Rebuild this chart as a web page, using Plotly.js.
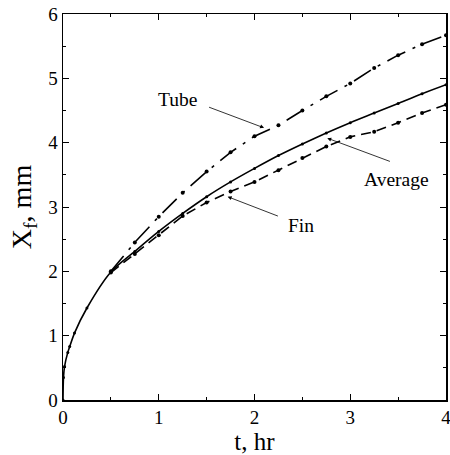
<!DOCTYPE html>
<html>
<head>
<meta charset="utf-8">
<script src="https://cdn.plot.ly/plotly-3.0.1.min.js"></script>
<style>html,body{margin:0;padding:0;background:#fff;}#chart{width:450px;height:455px;}</style>
</head>
<body>
<div id="chart"></div>
<script>
// Average (solid)
const tAvg = [0, 0.005, 0.016, 0.05, 0.07, 0.12, 0.25, 0.5, 0.75, 1.0, 1.25, 1.5, 1.75, 2.0, 2.25, 2.5, 2.75, 3.0, 3.25, 3.5, 3.75, 4.0];
const xfAvg = [0, 0.35, 0.52, 0.74, 0.83, 1.04, 1.43, 1.99, 2.31, 2.62, 2.9, 3.16, 3.39, 3.6, 3.8, 3.98, 4.15, 4.31, 4.46, 4.61, 4.76, 4.9];
// Tube (dash-dot)
const tTube = [0.5, 0.75, 1.0, 1.25, 1.5, 1.75, 2.0, 2.25, 2.5, 2.75, 3.0, 3.25, 3.5, 3.75, 4.0];
const xfTube = [2.0, 2.45, 2.85, 3.22, 3.55, 3.85, 4.1, 4.27, 4.5, 4.72, 4.92, 5.16, 5.36, 5.53, 5.67];
// Fin (dashed)
const tFin = [0.5, 0.75, 1.0, 1.25, 1.5, 1.75, 2.0, 2.25, 2.5, 2.75, 3.0, 3.25, 3.5, 3.75, 4.0];
const xfFin = [1.98, 2.27, 2.56, 2.86, 3.07, 3.24, 3.39, 3.57, 3.76, 3.94, 4.09, 4.17, 4.31, 4.46, 4.59];

const labels = ["Tube", "Average", "Fin"];
const xTicks = [0, 1, 2, 3, 4];
const yTicks = [0, 1, 2, 3, 4, 5, 6];

const font = "Liberation Serif, Times New Roman, serif";

const traces = [
  {x: tAvg, y: xfAvg, mode: 'lines+markers', line: {color: '#000', width: 1.6, shape: 'spline', smoothing: 0.8}, marker: {size: 3, color: '#000'}, name: labels[1]},
  {x: tTube, y: xfTube, mode: 'lines+markers', line: {color: '#000', width: 1.6, dash: '20px,8px,3px,8px'}, marker: {size: 4, color: '#000'}, name: labels[0]},
  {x: tFin, y: xfFin, mode: 'lines+markers', line: {color: '#000', width: 1.6, dash: '10px,6px'}, marker: {size: 4, color: '#000'}, name: labels[2]}
];

const axisCommon = {
  showgrid: false, zeroline: false, showline: true, linecolor: '#000', linewidth: 1.5,
  mirror: 'ticks', ticks: 'inside', ticklen: 6, tickwidth: 1, tickcolor: '#000',
  ticklabeloverflow: 'allow',
  tickfont: {family: font, size: 19, color: '#000'},
  minor: {dtick: 0.5, ticks: 'inside', ticklen: 3, tickcolor: '#000', tickwidth: 1}
};

const arrowStyle = {showarrow: true, arrowhead: 2, arrowsize: 1, arrowwidth: 0.8, arrowcolor: '#000', axref: 'x', ayref: 'y', text: '', standoff: 0, startstandoff: 0};

const layout = {
  width: 450, height: 455,
  margin: {l: 63, r: 4, t: 14, b: 55},
  paper_bgcolor: '#fff', plot_bgcolor: '#fff',
  showlegend: false,
  font: {family: font, color: '#000'},
  xaxis: Object.assign({}, axisCommon, {
    range: [0, 4], tickvals: xTicks, ticktext: xTicks.map(String),
    title: {text: 't, hr', font: {family: font, size: 25, color: '#000'}, standoff: 5}
  }),
  yaxis: Object.assign({}, axisCommon, {
    range: [0, 6], tickvals: yTicks, ticktext: yTicks.map(String),
    title: {text: 'X<sub>f</sub>, mm', font: {family: font, size: 28, color: '#000'}, standoff: 8}
  }),
  annotations: [
    {x: 1.2, y: 4.67, text: labels[0], showarrow: false, font: {family: font, size: 19.5, color: '#000'}},
    {x: 3.48, y: 3.42, text: labels[1], showarrow: false, font: {family: font, size: 19.5, color: '#000'}},
    {x: 2.49, y: 2.71, text: labels[2], showarrow: false, font: {family: font, size: 19.5, color: '#000'}},
    Object.assign({x: 2.10, y: 4.23, ax: 1.51, ay: 4.56}, arrowStyle),
    Object.assign({x: 2.76, y: 4.07, ax: 3.43, ay: 3.70}, arrowStyle),
    Object.assign({x: 1.72, y: 3.16, ax: 2.26, ay: 2.85}, arrowStyle)
  ]
};

Plotly.newPlot('chart', traces, layout, {displayModeBar: false, staticPlot: true});
</script>
</body>
</html>
